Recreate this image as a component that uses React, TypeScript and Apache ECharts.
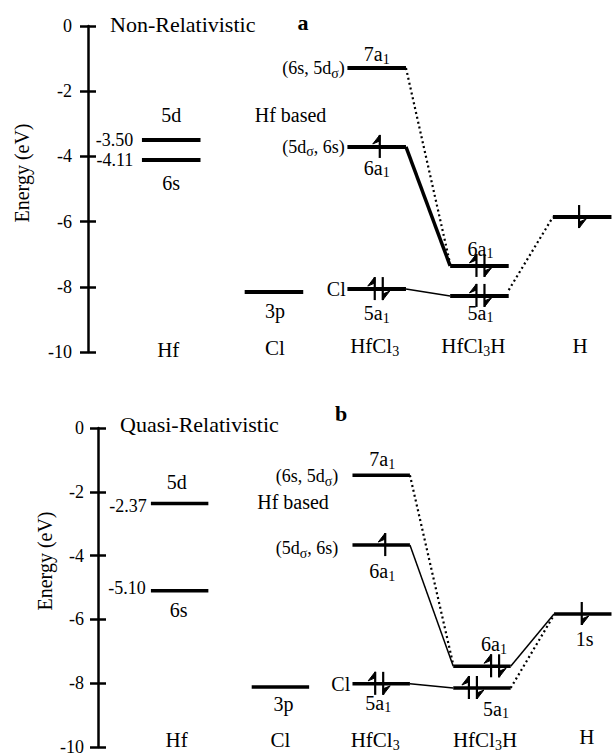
import React, { useEffect, useRef } from "react";
import * as echarts from "echarts";

const FONT = "'Liberation Serif', 'Times New Roman', serif";

// Column labels (fragment names)
const columnNames = ["Hf", "Cl", "HfCl{s|3}", "HfCl{s|3}H", "H"];
const columnPos = [1, 2, 3, 4, 5];
const energyTicks = [0, -2, -4, -6, -8, -10];

// Energy levels: [column, energy (eV)]
const levelsA = [
  [1, -3.5], [1, -4.11], [2, -8.16], [3, -1.29], [3, -3.71], [3, -8.07], [4, -7.36], [4, -8.28], [5, -5.86],
];
const levelsB = [
  [1, -2.37], [1, -5.1], [2, -8.12], [3, -1.48], [3, -3.67], [3, -8.02], [4, -7.47], [4, -8.15], [5, -5.83],
];

// Correlation lines: [fromColumn, fromEnergy, toColumn, toEnergy, kind] (0 thick, 1 thin, 2 dotted)
const linksA = [
  [3, -3.71, 4, -7.36, 0],
  [3, -1.29, 4, -7.3, 2],
  [3, -8.07, 4, -8.28, 1],
  [4, -8.1, 5, -5.86, 2],
];
const linksB = [
  [3, -3.67, 4, -7.47, 1],
  [3, -1.48, 4, -7.42, 2],
  [3, -8.02, 4, -8.15, 1],
  [4, -7.47, 5, -5.83, 1],
  [4, -8.15, 5, -5.86, 2],
];

// Electrons: [x (column units), energy, kind] kind 1 = up, 2 = pair, -1 = down
const electronsA = [
  [3.03, -3.71, 1], [3.02, -8.07, 2], [4.01, -7.36, 2], [4.01, -8.28, 2], [4.97, -5.86, -1],
];
const electronsB = [
  [3.04, -3.67, 1], [2.98, -8.02, 2], [4.13, -7.47, 2], [3.91, -8.15, 2], [4.99, -5.83, -1],
];

// Level annotations: [text, column, energy]
const notesA = [
  ["5d", 1, -3.5], ["6s", 1, -4.11], ["-3.50", 1, -3.5], ["-4.11", 1, -4.11], ["3p", 2, -8.16],
  ["7a{s|1}", 3, -1.29], ["(6s, 5d{s|σ})", 3, -1.29], ["Hf based", 3, -2.73], ["(5d{s|σ}, 6s)", 3, -3.71],
  ["6a{s|1}", 3, -3.71], ["6a{s|1}", 4, -7.36], ["Cl", 3, -8.07], ["5a{s|1}", 3, -8.07], ["5a{s|1}", 4, -8.28],
];
const notesB = [
  ["5d", 1, -2.37], ["6s", 1, -5.1], ["-2.37", 1, -2.37], ["-5.10", 1, -5.1], ["3p", 2, -8.12],
  ["7a{s|1}", 3, -1.48], ["(6s, 5d{s|σ})", 3, -1.48], ["Hf based", 3, -2.33], ["(5d{s|σ}, 6s)", 3, -3.67],
  ["6a{s|1}", 3, -3.67], ["6a{s|1}", 4, -7.47], ["Cl", 3, -8.02], ["5a{s|1}", 3, -8.02], ["5a{s|1}", 4, -8.15],
  ["1s", 5, -5.83],
];

// Layout (pixel offsets, alignment, font size) for annotations
const notesLayoutA = [
  [0, -25, "center", 20], [0, 23, "center", 20], [-38, 0, "right", 18], [-38, 0, "right", 18], [1, 19, "center", 20],
  [0, -14, "center", 20], [-32, 0, "right", 18], [-122, 0, "left", 20], [-32, 0, "right", 18],
  [0, 21, "center", 20], [1, -17, "center", 20], [-31, 0, "right", 20], [0, 24, "center", 20], [1, 17, "center", 20],
];
const notesLayoutB = [
  [-3, -22, "center", 20], [-1, 19, "center", 20], [-33, 2, "right", 18], [-34, -3, "right", 18], [3, 17, "center", 20],
  [1, -16, "center", 20], [-43, 1, "right", 18], [-124, 0, "left", 20], [-43, 3, "right", 18],
  [1, 26, "center", 20], [12, -22, "center", 20], [-31, 0, "right", 20], [-3, 19, "center", 20], [14, 21, "center", 20],
  [2, 25, "center", 20],
];
const colLabelLayoutA = [[-3, -2], [1, -4], [-2, -6], [-6, -6], [-2, -6]];
const colLabelLayoutB = [[-3, -7], [0, -7], [-6, -7], [3, -7], [4, -10]];

const HW = 0.285;

const rich = {
  s: { fontSize: 14, fontFamily: FONT, padding: [10, 0, 0, 0], lineHeight: 24, fill: "#000" },
};

function levelSeries(ai: number, levels: number[][], lw: number) {
  return {
    type: "custom", xAxisIndex: ai, yAxisIndex: ai * 2, silent: true, z: 3,
    data: levels,
    renderItem: (_p: any, api: any) => {
      const c = api.value(0), e = api.value(1);
      const a = api.coord([c - HW, e]);
      const b = api.coord([c + HW, e]);
      return { type: "line", shape: { x1: a[0], y1: a[1], x2: b[0], y2: b[1] }, style: { stroke: "#000", lineWidth: lw } };
    },
  };
}

function linkSeries(ai: number, links: number[][], thick: number) {
  return {
    type: "custom", xAxisIndex: ai, yAxisIndex: ai * 2, silent: true, z: 2,
    data: links,
    renderItem: (_p: any, api: any) => {
      const a = api.coord([api.value(0) + HW, api.value(1)]);
      const b = api.coord([api.value(2) - HW, api.value(3)]);
      const k = api.value(4);
      const style: any = { stroke: "#000", fill: null };
      if (k === 0) style.lineWidth = thick;
      else if (k === 1) style.lineWidth = 1.5;
      else { style.lineWidth = 2.2; style.lineDash = [2, 3]; }
      return { type: "line", shape: { x1: a[0], y1: a[1], x2: b[0], y2: b[1] }, style };
    },
  };
}

function electronSeries(ai: number, els: number[][]) {
  return {
    type: "custom", xAxisIndex: ai, yAxisIndex: ai * 2, silent: true, z: 4,
    data: els,
    renderItem: (_p: any, api: any) => {
      const p = api.coord([api.value(0), api.value(1)]);
      const kind = api.value(2);
      const top = p[1] - 12, bot = p[1] + 11;
      const children: any[] = [];
      const up = (x: number) => {
        children.push({ type: "line", shape: { x1: x, y1: top, x2: x, y2: bot }, style: { stroke: "#000", lineWidth: 2.2 } });
        children.push({ type: "polygon", shape: { points: [[x, top], [x - 7, top + 9], [x, top + 6]] }, style: { fill: "#000", stroke: "#000", lineWidth: 1 } });
      };
      const down = (x: number) => {
        children.push({ type: "line", shape: { x1: x, y1: top, x2: x, y2: bot }, style: { stroke: "#000", lineWidth: 2.2 } });
        children.push({ type: "polygon", shape: { points: [[x, bot], [x + 7, bot - 9], [x, bot - 6]] }, style: { fill: "#000", stroke: "#000", lineWidth: 1 } });
      };
      if (kind === 1) up(p[0]);
      else if (kind === -1) down(p[0]);
      else { up(p[0] - 4); down(p[0] + 4); }
      return { type: "group", children };
    },
  };
}

function textSeries(ai: number, items: any[][], layout: any[][]) {
  return {
    type: "custom", xAxisIndex: ai, yAxisIndex: ai * 2, silent: true, z: 5,
    data: items.map((it) => [it[1], it[2]]),
    renderItem: (params: any, api: any) => {
      const it = items[params.dataIndex];
      const l = layout[params.dataIndex];
      const p = api.coord([api.value(0), api.value(1)]);
      return {
        type: "text", x: p[0] + l[0], y: p[1] + l[1],
        style: {
          text: it[0], fill: "#000", fontFamily: FONT, fontSize: l[3] || 20,
          align: l[2], verticalAlign: "middle", lineHeight: 24, rich,
        },
      };
    },
  };
}

function yAxes(gi: number, margin: number) {
  return [
    {
      type: "value", gridIndex: gi, min: -10, max: 0, interval: 2, position: "left",
      axisLine: { show: true, lineStyle: { color: "#000", width: 2.5 } },
      axisTick: { show: true, inside: false, length: 8, lineStyle: { color: "#000", width: 2.5 } },
      axisLabel: { show: true, margin, color: "#000", fontFamily: FONT, fontSize: 18, customValues: energyTicks },
      splitLine: { show: false },
    },
    {
      type: "value", gridIndex: gi, min: -10, max: 0, interval: 2, position: "left",
      axisLine: { show: false },
      axisTick: { show: true, inside: true, length: 8, lineStyle: { color: "#000", width: 2.5 } },
      axisLabel: { show: false },
      splitLine: { show: false },
    },
  ];
}

export default function App() {
  const ref = useRef<HTMLDivElement>(null);
  useEffect(() => {
    if (!ref.current) return;
    const chart = echarts.init(ref.current, null, { renderer: "svg" });
    const colItems = columnNames.map((n, i) => [n, columnPos[i], -10]);
    const option: any = {
      animation: false,
      backgroundColor: "#fff",
      grid: [
        { left: 88, top: 26, width: 529, height: 326 },
        { left: 98, top: 428, width: 524, height: 324 },
      ],
      xAxis: [
        { type: "value", gridIndex: 0, min: 0.19, max: 5.3, show: false },
        { type: "value", gridIndex: 1, min: 0.19, max: 5.3, show: false },
      ],
      yAxis: [...yAxes(0, 16), ...yAxes(1, 14)],
      graphic: [
        { type: "text", x: 110, y: 24, style: { text: "Non-Relativistic", fill: "#000", font: `22px ${FONT}`, textAlign: "left", textVerticalAlign: "middle" } },
        { type: "text", x: 303, y: 22, style: { text: "a", fill: "#000", font: `bold 22px ${FONT}`, textAlign: "center", textVerticalAlign: "middle" } },
        { type: "text", x: 120, y: 424, style: { text: "Quasi-Relativistic", fill: "#000", font: `22px ${FONT}`, textAlign: "left", textVerticalAlign: "middle" } },
        { type: "text", x: 341, y: 413, style: { text: "b", fill: "#000", font: `bold 22px ${FONT}`, textAlign: "center", textVerticalAlign: "middle" } },
        { type: "text", x: 22, y: 173, rotation: Math.PI / 2, style: { text: "Energy (eV)", fill: "#000", font: `20px ${FONT}`, textAlign: "center", textVerticalAlign: "middle" } },
        { type: "text", x: 45, y: 561, rotation: Math.PI / 2, style: { text: "Energy (eV)", fill: "#000", font: `20px ${FONT}`, textAlign: "center", textVerticalAlign: "middle" } },
      ],
      series: [
        linkSeries(0, linksA, 3.5),
        levelSeries(0, levelsA, 4),
        electronSeries(0, electronsA),
        textSeries(0, notesA, notesLayoutA),
        textSeries(0, colItems, colLabelLayoutA.map((o) => [o[0], o[1], "center", 21])),
        linkSeries(1, linksB, 1.5),
        levelSeries(1, levelsB, 3.5),
        electronSeries(1, electronsB),
        textSeries(1, notesB, notesLayoutB),
        textSeries(1, colItems, colLabelLayoutB.map((o) => [o[0], o[1], "center", 21])),
      ],
    };
    chart.setOption(option);
    return () => chart.dispose();
  }, []);
  return (
    <div
      ref={ref}
      style={{ position: "absolute", left: 0, top: 0, width: 613, height: 756, background: "#fff" }}
    />
  );
}
